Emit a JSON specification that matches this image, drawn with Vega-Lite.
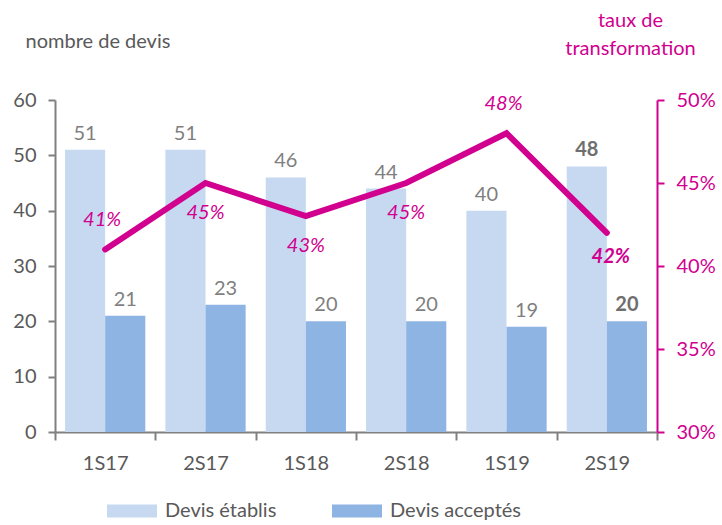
{
  "$schema": "https://vega.github.io/schema/vega-lite/v6.json",
  "width": 602,
  "height": 332,
  "autosize": {"type": "none"},
  "padding": {"left": 55, "top": 100, "right": 65, "bottom": 93},
  "background": "white",
  "config": {
    "view": {"stroke": null},
    "font": "Lato",
    "axis": {"grid": false, "labelFont": "Lato", "titleFont": "Lato"}
  },
  "datasets": {
    "devis": [
      {"periode": "1S17", "serie": "Devis établis", "valeur": 51},
      {"periode": "1S17", "serie": "Devis acceptés", "valeur": 21},
      {"periode": "2S17", "serie": "Devis établis", "valeur": 51},
      {"periode": "2S17", "serie": "Devis acceptés", "valeur": 23},
      {"periode": "1S18", "serie": "Devis établis", "valeur": 46},
      {"periode": "1S18", "serie": "Devis acceptés", "valeur": 20},
      {"periode": "2S18", "serie": "Devis établis", "valeur": 44},
      {"periode": "2S18", "serie": "Devis acceptés", "valeur": 20},
      {"periode": "1S19", "serie": "Devis établis", "valeur": 40},
      {"periode": "1S19", "serie": "Devis acceptés", "valeur": 19},
      {"periode": "2S19", "serie": "Devis établis", "valeur": 48},
      {"periode": "2S19", "serie": "Devis acceptés", "valeur": 20}
    ],
    "taux": [
      {"periode": "1S17", "taux": 0.41},
      {"periode": "2S17", "taux": 0.45},
      {"periode": "1S18", "taux": 0.43},
      {"periode": "2S18", "taux": 0.45},
      {"periode": "1S19", "taux": 0.48},
      {"periode": "2S19", "taux": 0.42}
    ]
  },
  "layer": [
    {
      "data": {"name": "devis"},
      "encoding": {
        "x": {
          "field": "periode", "type": "nominal",
          "sort": ["1S17", "2S17", "1S18", "2S18", "1S19", "2S19"],
          "scale": {"paddingInner": 0, "paddingOuter": 0},
          "axis": {
            "title": null, "labelAngle": 0, "tickBand": "extent",
            "domainColor": "#808080", "domainWidth": 2,
            "tickColor": "#808080", "tickWidth": 2, "tickSize": 8,
            "labelFontSize": 20, "labelColor": "#595959", "labelPadding": 13
          }
        },
        "xOffset": {
          "field": "serie", "type": "nominal",
          "sort": ["Devis établis", "Devis acceptés"],
          "scale": {"paddingInner": 0, "paddingOuter": 0.25}
        },
        "y": {
          "field": "valeur", "type": "quantitative",
          "scale": {"domain": [0, 60]},
          "axis": {
            "values": [0, 10, 20, 30, 40, 50, 60],
            "title": "nombre de devis", "titleAngle": 0, "titleAlign": "left",
            "titleBaseline": "alphabetic", "titleX": -30, "titleY": -53,
            "titleFontSize": 20, "titleFontWeight": "normal", "titleColor": "#595959",
            "domainColor": "#808080", "domainWidth": 2,
            "tickColor": "#808080", "tickWidth": 2, "tickSize": 7,
            "labelFontSize": 20, "labelColor": "#595959", "labelPadding": 12
          }
        }
      },
      "layer": [
        {
          "mark": {"type": "bar"},
          "encoding": {
            "fill": {
              "field": "serie", "type": "nominal",
              "sort": ["Devis établis", "Devis acceptés"],
              "scale": {"domain": ["Devis établis", "Devis acceptés"], "range": ["#c6d9f1", "#8eb4e3"]},
              "legend": {
                "title": null, "orient": "none", "direction": "horizontal",
                "legendX": 52, "legendY": 386, "padding": 0,
                "symbolType": "M-1,-0.26L1,-0.26L1,0.26L-1,0.26Z",
                "symbolSize": 2500, "symbolStrokeWidth": 0,
                "labelFontSize": 20, "labelColor": "#595959", "labelOffset": 8,
                "columnPadding": 55, "labelLimit": 300
              }
            }
          }
        },
        {
          "transform": [{"filter": "datum.periode !== '2S19'"}],
          "mark": {"type": "text", "baseline": "bottom", "dy": -6, "fontSize": 20, "color": "#7f7f7f"},
          "encoding": {"text": {"field": "valeur", "type": "quantitative"}}
        },
        {
          "transform": [{"filter": "datum.periode === '2S19'"}],
          "mark": {"type": "text", "baseline": "bottom", "dy": -6, "fontSize": 20, "fontWeight": "bold", "color": "#6f6f6f"},
          "encoding": {"text": {"field": "valeur", "type": "quantitative"}}
        }
      ]
    },
    {
      "data": {"name": "taux"},
      "encoding": {
        "x": {
          "field": "periode", "type": "nominal",
          "sort": ["1S17", "2S17", "1S18", "2S18", "1S19", "2S19"]
        },
        "y": {
          "field": "taux", "type": "quantitative",
          "scale": {"domain": [0.3, 0.5]},
          "axis": {
            "orient": "right", "format": ".0%",
            "values": [0.3, 0.35, 0.4, 0.45, 0.5],
            "title": ["taux de", "transformation"], "titleAngle": 0, "titleAlign": "center",
            "titleBaseline": "top", "titleX": -27, "titleY": -90, "titleLineHeight": 28,
            "titleFontSize": 20, "titleFontWeight": "normal", "titleColor": "#d1008f",
            "domainColor": "#d1008f", "domainWidth": 2,
            "tickColor": "#d1008f", "tickWidth": 2, "tickSize": 7,
            "labelFontSize": 20, "labelColor": "#d1008f", "labelPadding": 12
          }
        }
      },
      "layer": [
        {
          "mark": {"type": "line", "color": "#d1008f", "strokeWidth": 6, "strokeJoin": "miter", "strokeCap": "round"}
        },
        {
          "transform": [{"filter": "datum.periode === '1S17' || datum.periode === '1S19'"}],
          "mark": {"type": "text", "baseline": "middle", "dy": -29, "dx": -3, "fontSize": 20, "fontStyle": "italic", "color": "#d1008f"},
          "encoding": {"text": {"field": "taux", "type": "quantitative", "format": ".0%"}}
        },
        {
          "transform": [{"filter": "datum.periode !== '1S17' && datum.periode !== '1S19' && datum.periode !== '2S19'"}],
          "mark": {"type": "text", "baseline": "middle", "dy": 30, "fontSize": 20, "fontStyle": "italic", "color": "#d1008f"},
          "encoding": {"text": {"field": "taux", "type": "quantitative", "format": ".0%"}}
        },
        {
          "transform": [{"filter": "datum.periode === '2S19'"}],
          "mark": {"type": "text", "baseline": "middle", "dy": 24, "dx": 4, "fontSize": 20, "fontStyle": "italic", "fontWeight": "bold", "color": "#d1008f"},
          "encoding": {"text": {"field": "taux", "type": "quantitative", "format": ".0%"}}
        }
      ]
    }
  ],
  "resolve": {"scale": {"y": "independent"}}
}
